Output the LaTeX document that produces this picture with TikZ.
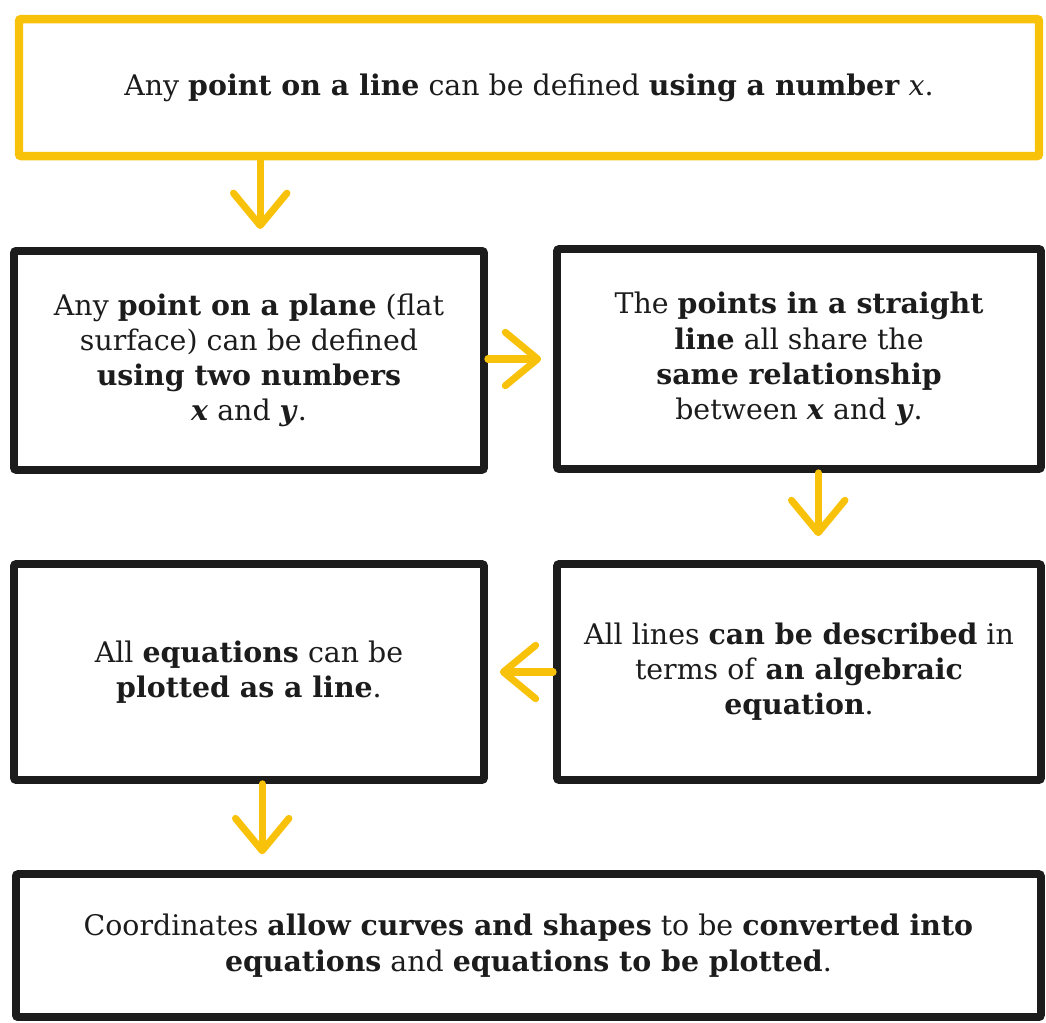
\documentclass[tikz,border=0pt]{standalone}
\usepackage{fontspec}
\setmainfont{DejaVu Serif}
\usepackage{tikz}
\usetikzlibrary{arrows.meta}
\definecolor{ideayellow}{HTML}{F9C20A}
\definecolor{ideablack}{HTML}{1C1C1C}

\tikzset{
  idea/.style={draw=ideablack, line width=5.5pt, rounded corners=1.5pt, align=center,
    inner sep=0pt, text=ideablack, font=\fontsize{20.2}{25}\selectfont},
  ideatop/.style={idea, draw=ideayellow, line width=6pt},
  flow/.style={draw=ideayellow, line width=5pt, line cap=round,
    -{Straight Barb[length=23pt, width=38pt, round]}}
}

\begin{document}
\begin{tikzpicture}
  \useasboundingbox (0,0) rectangle (26.15,-25.575);

  \node[ideatop, minimum width=25.5cm, minimum height=3.425cm] (line) at (13.225,-2.19)
    {Any \textbf{point on a line} can be defined \textbf{using a number} \textit{x}.};

  \node[idea, minimum width=11.75cm, minimum height=5.475cm] (plane) at (6.225,-9.01)
    {Any \textbf{point on a plane} (flat\\ surface) can be defined\\ \textbf{using two numbers}\\ \textbf{\textit{x}} and \textbf{\textit{y}}.};

  \node[idea, minimum width=12.1cm, minimum height=5.5cm] (straight) at (19.975,-8.975)
    {The \textbf{points in a straight}\\ \textbf{line} all share the\\ \textbf{same relationship}\\ between \textbf{\textit{x}} and \textbf{\textit{y}}.};

  \node[idea, minimum width=12.1cm, minimum height=5.4cm] (algebra) at (19.975,-16.8)
    {All lines \textbf{can be described} in\\ terms of \textbf{an algebraic}\\ \textbf{equation}.};

  \node[idea, minimum width=11.75cm, minimum height=5.4cm] (plotted) at (6.225,-16.8)
    {All \textbf{equations} can be\\ \textbf{plotted as a line}.};

  \node[idea, minimum width=25.625cm, minimum height=3.575cm] (coords) at (13.21,-23.64)
    {Coordinates \textbf{allow curves and shapes} to be \textbf{converted into}\\ \textbf{equations} and \textbf{equations to be plotted}.};

  % yellow arrows
  \draw[flow, shorten >=0.45cm] ([xshift=0.28cm]line.south -| plane.north) -- ([xshift=0.28cm]plane.north);
  \draw[flow, shorten >=0.3cm] (plane.east |- straight.west) -- (straight.west);
  \draw[flow, shorten >=0.6cm] ([xshift=0.48cm]straight.south) -- ([xshift=0.48cm]algebra.north);
  \draw[flow, shorten >=0.3cm] (algebra.west) -- (plotted.east);
  \draw[flow, shorten >=0.4cm] ([xshift=0.33cm]plotted.south) -- ([xshift=0.33cm]plotted.south |- coords.north);
\end{tikzpicture}
\end{document}
